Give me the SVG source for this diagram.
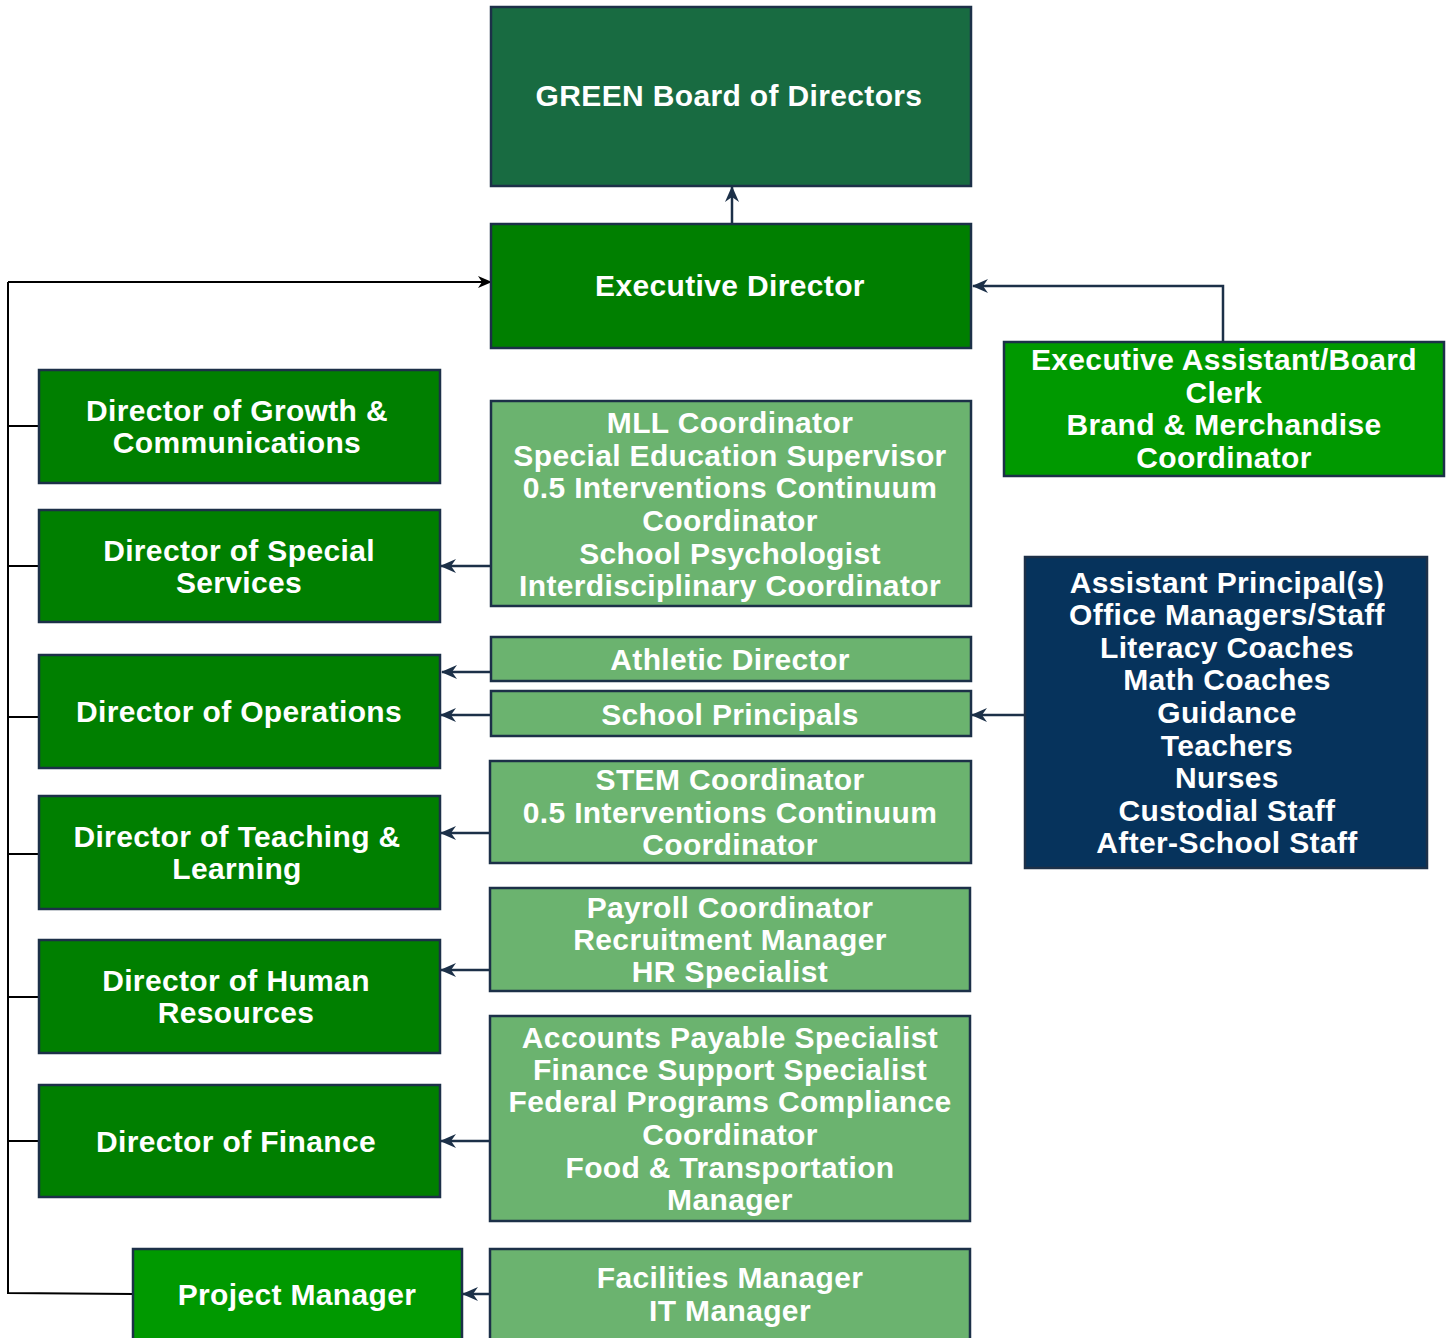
<svg xmlns="http://www.w3.org/2000/svg" width="1452" height="1338" viewBox="0 0 1452 1338">
<style>
.box{stroke:#1c3048;stroke-width:2.5}
.board{fill:#186b41}
.dg{fill:#007f00}
.bg{fill:#009900}
.lg{fill:#6bb36f}
.nv{fill:#06335c}
text{font-family:"Liberation Sans",Arial,sans-serif;font-weight:bold;font-size:30px;letter-spacing:0.35px;fill:#ffffff;text-anchor:middle}
.cn{fill:none;stroke:#1c3048;stroke-width:2.5}
.bk{fill:none;stroke:#000;stroke-width:2}
</style>
<defs>
<marker id="ah" viewBox="0 0 16 14" refX="15" refY="7" markerWidth="16" markerHeight="14" markerUnits="userSpaceOnUse" orient="auto">
<path d="M0,0 L16,7 L0,14 L5,7 Z" fill="#1c3048"/>
</marker>
<marker id="ahk" viewBox="0 0 14 12" refX="13" refY="6" markerWidth="14" markerHeight="12" markerUnits="userSpaceOnUse" orient="auto">
<path d="M0,0 L14,6 L0,12 L4,6 Z" fill="#000"/>
</marker>
</defs>
<rect width="1452" height="1338" fill="#ffffff"/>
<g id="connectors">
<path class="cn" d="M732,224 V187" marker-end="url(#ah)"/>
<path class="cn" d="M1223,342 V286 H973" marker-end="url(#ah)"/>
<path class="bk" d="M8,282 H491" stroke-width="3" marker-end="url(#ahk)"/>
<path class="bk" d="M8,282 V1293 L133,1294"/>
<path class="bk" stroke-width="1.6" d="M8,426 H39 M8,566 H39 M8,717 H39 M8,854 H39 M8,997 H39 M8,1141 H39"/>
<path class="cn" d="M491,566 H441" marker-end="url(#ah)"/>
<path class="cn" d="M491,672 H442" marker-end="url(#ah)"/>
<path class="cn" d="M491,715 H441" marker-end="url(#ah)"/>
<path class="cn" d="M1025,715 H972" marker-end="url(#ah)"/>
<path class="cn" d="M490,833 H441" marker-end="url(#ah)"/>
<path class="cn" d="M490,970 H441" marker-end="url(#ah)"/>
<path class="cn" d="M490,1141 H441" marker-end="url(#ah)"/>
<path class="cn" d="M490,1294 H463" marker-end="url(#ah)"/>
</g>
<g id="board"><rect class="box board" x="491" y="7" width="480" height="179"/><text x="729" y="106">GREEN Board of Directors</text></g>
<g id="exec-director"><rect class="box dg" x="491" y="224" width="480" height="124"/><text x="730" y="296">Executive Director</text></g>
<g id="exec-assistant"><rect class="box bg" x="1004" y="342" width="440" height="134"/><text x="1224" y="370">Executive Assistant/Board</text><text x="1224" y="403">Clerk</text><text x="1224" y="435">Brand &amp; Merchandise</text><text x="1224" y="468">Coordinator</text></g>
<g id="dir-growth"><rect class="box dg" x="39" y="370" width="401" height="113"/><text x="237" y="421">Director of Growth &amp;</text><text x="237" y="453">Communications</text></g>
<g id="special-staff"><rect class="box lg" x="491" y="401" width="480" height="205"/><text x="730" y="433">MLL Coordinator</text><text x="730" y="466">Special Education Supervisor</text><text x="730" y="498">0.5 Interventions Continuum</text><text x="730" y="531">Coordinator</text><text x="730" y="564">School Psychologist</text><text x="730" y="596">Interdisciplinary Coordinator</text></g>
<g id="dir-special"><rect class="box dg" x="39" y="510" width="401" height="112"/><text x="239" y="561">Director of Special</text><text x="239" y="593">Services</text></g>
<g id="athletic"><rect class="box lg" x="491" y="637" width="480" height="44"/><text x="730" y="670">Athletic Director</text></g>
<g id="principals"><rect class="box lg" x="491" y="691" width="480" height="45"/><text x="730" y="725">School Principals</text></g>
<g id="dir-operations"><rect class="box dg" x="39" y="655" width="401" height="113"/><text x="239" y="722">Director of Operations</text></g>
<g id="school-staff"><rect class="box nv" x="1025" y="557" width="402" height="311"/><text x="1227" y="593">Assistant Principal(s)</text><text x="1227" y="625">Office Managers/Staff</text><text x="1227" y="658">Literacy Coaches</text><text x="1227" y="690">Math Coaches</text><text x="1227" y="723">Guidance</text><text x="1227" y="756">Teachers</text><text x="1227" y="788">Nurses</text><text x="1227" y="821">Custodial Staff</text><text x="1227" y="853">After-School Staff</text></g>
<g id="stem"><rect class="box lg" x="490" y="761" width="481" height="102"/><text x="730" y="790">STEM Coordinator</text><text x="730" y="823">0.5 Interventions Continuum</text><text x="730" y="855">Coordinator</text></g>
<g id="dir-teaching"><rect class="box dg" x="39" y="796" width="401" height="113"/><text x="237" y="847">Director of Teaching &amp;</text><text x="237" y="879">Learning</text></g>
<g id="hr-staff"><rect class="box lg" x="490" y="888" width="480" height="103"/><text x="730" y="918">Payroll Coordinator</text><text x="730" y="950">Recruitment Manager</text><text x="730" y="982">HR Specialist</text></g>
<g id="dir-hr"><rect class="box dg" x="39" y="940" width="401" height="113"/><text x="236" y="991">Director of Human</text><text x="236" y="1023">Resources</text></g>
<g id="finance-staff"><rect class="box lg" x="490" y="1016" width="480" height="205"/><text x="730" y="1048">Accounts Payable Specialist</text><text x="730" y="1080">Finance Support Specialist</text><text x="730" y="1112">Federal Programs Compliance</text><text x="730" y="1145">Coordinator</text><text x="730" y="1178">Food &amp; Transportation</text><text x="730" y="1210">Manager</text></g>
<g id="dir-finance"><rect class="box dg" x="39" y="1085" width="401" height="112"/><text x="236" y="1152">Director of Finance</text></g>
<g id="project-manager"><rect class="box bg" x="133" y="1249" width="329" height="100"/><text x="297" y="1305">Project Manager</text></g>
<g id="facilities"><rect class="box lg" x="490" y="1249" width="480" height="100"/><text x="730" y="1288">Facilities Manager</text><text x="730" y="1321">IT Manager</text></g>
</svg>
